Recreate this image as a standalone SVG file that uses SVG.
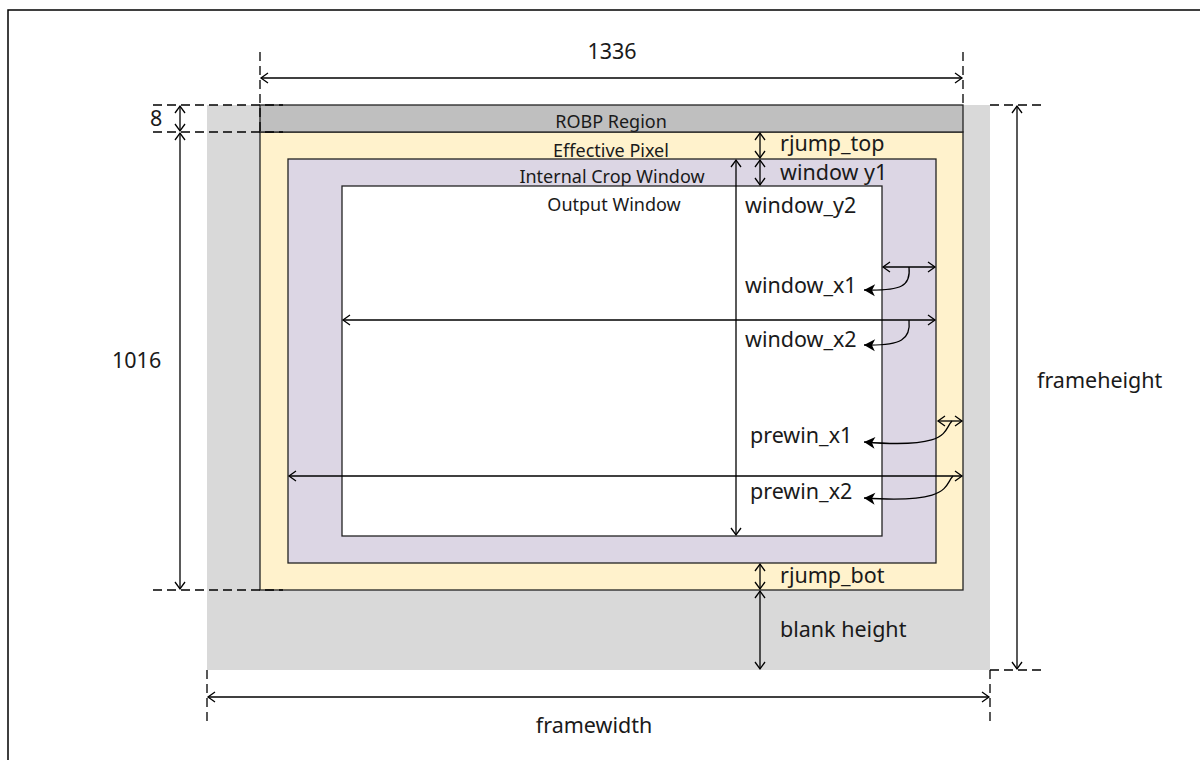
<svg xmlns="http://www.w3.org/2000/svg" width="1200" height="760" viewBox="0 0 1200 760">
<style>
.lbl{font-family:"Noto Sans","Liberation Sans",sans-serif;font-size:21.5px;fill:#1a1a1a}
.sm{font-family:"Noto Sans","Liberation Sans",sans-serif;font-size:18px;fill:#1a1a1a}
.box{stroke:#222;stroke-width:1.3}
.dash{stroke:#000;stroke-width:1.3;stroke-dasharray:9 5;fill:none}
.da{stroke:#000;stroke-width:1.3;fill:none;marker-start:url(#oa);marker-end:url(#oa)}
.cv{stroke:#000;stroke-width:1.3;fill:none;marker-end:url(#fa)}
</style>
<defs>
<marker id="oa" viewBox="-10 -7 12 14" markerWidth="12" markerHeight="14" refX="0" refY="0" orient="auto-start-reverse" markerUnits="userSpaceOnUse">
<path d="M-7,-5 L0,0 L-7,5" fill="none" stroke="#000" stroke-width="1.3"/>
</marker>
<marker id="fa" viewBox="-12 -7 14 14" markerWidth="14" markerHeight="14" refX="0" refY="0" orient="auto" markerUnits="userSpaceOnUse">
<path d="M-11,-6 L0,0 L-11,6 L-8,0 Z" fill="#000"/>
</marker>
</defs>
<rect width="1200" height="760" fill="#fff"/>
<path d="M8,762 L8,10 L1202,10" fill="none" stroke="#000" stroke-width="1.5"/>

<g id="frame"><rect x="207" y="105" width="783" height="565" fill="#d9d9d9"/></g>
<g id="effective"><rect class="box" x="260" y="132" width="703" height="458" fill="#fff2cc"/>
<text class="sm" x="611" y="157" text-anchor="middle">Effective Pixel</text></g>
<g id="robp"><rect class="box" x="260" y="105" width="703" height="27" fill="#bfbfbf"/>
<text class="sm" x="611" y="128" text-anchor="middle" font-size="16">ROBP Region</text></g>
<g id="crop"><rect class="box" x="288" y="159" width="648" height="404" fill="#dcd6e4"/>
<text class="sm" x="612" y="183" text-anchor="middle">Internal Crop Window</text></g>
<g id="output"><rect class="box" x="342" y="186" width="540" height="350" fill="#fff"/>
<text class="sm" x="614" y="211" text-anchor="middle">Output Window</text></g>

<g id="connectors">
<line class="dash" x1="260" y1="52" x2="260" y2="132"/>
<line class="dash" x1="963" y1="52" x2="963" y2="105"/>
<line class="da" x1="261" y1="78" x2="962" y2="78"/>
<line class="dash" x1="153" y1="105" x2="283" y2="105"/>
<line class="dash" x1="153" y1="132" x2="283" y2="132"/>
<line class="dash" x1="153" y1="590" x2="283" y2="590"/>
<line class="da" x1="180" y1="106" x2="180" y2="131"/>
<line class="da" x1="180" y1="133" x2="180" y2="589"/>
<line class="dash" x1="990" y1="105" x2="1046" y2="105"/>
<line class="dash" x1="990" y1="670" x2="1046" y2="670"/>
<line class="da" x1="1017" y1="106" x2="1017" y2="669"/>
<line class="dash" x1="207" y1="670" x2="207" y2="724"/>
<line class="dash" x1="990" y1="670" x2="990" y2="724"/>
<line class="da" x1="208" y1="697" x2="989" y2="697"/>
<line class="da" x1="760" y1="133" x2="760" y2="158"/>
<line class="da" x1="760" y1="160" x2="760" y2="185"/>
<line class="da" x1="736" y1="160" x2="736" y2="535"/>
<line class="da" x1="760" y1="564" x2="760" y2="589"/>
<line class="da" x1="760" y1="591" x2="760" y2="669"/>
<line class="da" x1="883" y1="267" x2="935" y2="267"/>
<line class="da" x1="343" y1="320" x2="935" y2="320"/>
<path class="cv" d="M909,267 C911,286 902,291 864,290"/>
<path class="cv" d="M909,320 C911,339 902,346 864,345"/>
<line class="da" x1="938" y1="421" x2="962" y2="421"/>
<line class="da" x1="289" y1="476" x2="962" y2="476"/>
<path class="cv" d="M952,421 C943,430 952,449 864,442"/>
<path class="cv" d="M953,476 C944,485 952,504 864,498"/>
</g>

<g id="labels">
<text class="lbl" x="612" y="59" text-anchor="middle">1336</text>
<text class="lbl" x="150" y="126">8</text>
<text class="lbl" x="112" y="368">1016</text>
<text class="lbl" x="1037" y="388">frameheight</text>
<text class="lbl" x="594" y="733" text-anchor="middle">framewidth</text>
<text class="lbl" x="780" y="151" font-size="21">rjump_top</text>
<text class="lbl" x="780" y="180" font-size="21">window y1</text>
<text class="lbl" x="745" y="213">window_y2</text>
<text class="lbl" x="745" y="293">window_x1</text>
<text class="lbl" x="745" y="347">window_x2</text>
<text class="lbl" x="750" y="443">prewin_x1</text>
<text class="lbl" x="750" y="499">prewin_x2</text>
<text class="lbl" x="780" y="583">rjump_bot</text>
<text class="lbl" x="780" y="637">blank height</text>
</g>
</svg>
